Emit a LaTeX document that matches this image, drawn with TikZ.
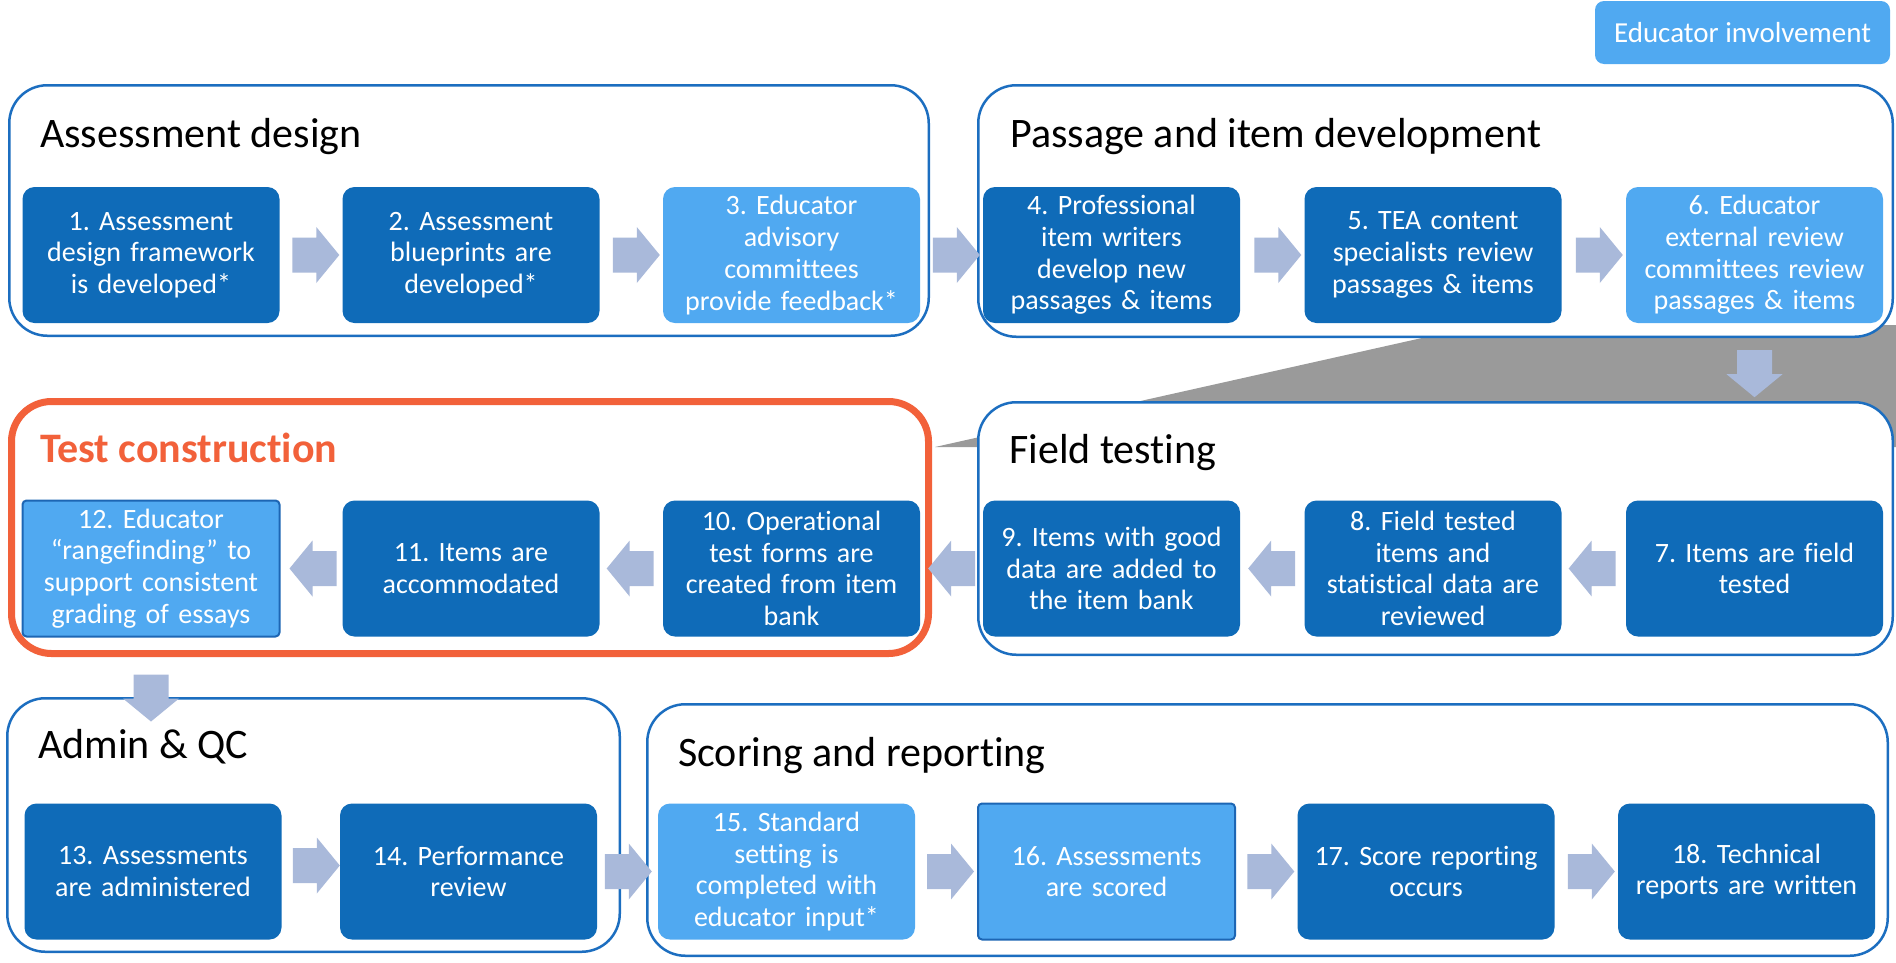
\documentclass[tikz,border=0pt]{standalone}
\usepackage{fontspec}
\setmainfont{Carlito}[Ligatures=NoCommon]
\usetikzlibrary{calc}

\definecolor{stepdark}{HTML}{0F6BB8}
\definecolor{steplight}{HTML}{50A9F1}
\definecolor{frameblue}{HTML}{1C6EC0}
\definecolor{edgeblue}{HTML}{1D66B4}
\definecolor{flowarrow}{HTML}{A9B9DA}
\definecolor{focusorange}{HTML}{F2613A}
\definecolor{wedgegray}{HTML}{9A9A9A}

\tikzset{
  stage/.style={draw=frameblue, line width=2.5pt, fill=white, rounded corners=38pt,
    inner sep=0pt},
  focusstage/.style={draw=focusorange, line width=7pt, fill=white, rounded corners=40pt,
    inner sep=0pt},
  stagetitle/.style={anchor=base west, inner sep=0pt, font={\fontsize{42}{50}\selectfont}},
  stepbox/.style={fill=stepdark, rounded corners=12pt, minimum width=257pt,
    minimum height=136pt, text width=255pt, inner sep=0pt, align=center, text=white,
    font={\fontsize{28}{31.7}\selectfont}},
  educbox/.style={stepbox, fill=steplight},
  pics/blockarrow/.style={code={
    \fill[flowarrow] (0,0) -- (-23,-28) -- (-23,-17.5) -- (-47,-17.5) -- (-47,17.5)
      -- (-23,17.5) -- (-23,28) -- cycle;}}
}

\begin{document}
\frenchspacing
\begin{tikzpicture}[x=1pt, y=-1pt]
\useasboundingbox (0,0) rectangle (1896,962);

% grey callout wedge from the test construction stage to the field testing stage
\fill[wedgegray] (935,447) -- (1480,325) -- (1896,325) -- (1896,447) -- cycle;

% stage frames
\node[stage, minimum width=919.5pt, minimum height=250.5pt] (design) at (469,210.5) {};
\node[stage, minimum width=914.5pt, minimum height=251.5pt] (develop) at (1435.5,211) {};
\node[focusstage, minimum width=917pt, minimum height=252pt] (construct) at (470,527.5) {};
\node[stage, minimum width=914.5pt, minimum height=252.5pt] (field) at (1435.5,528.5) {};
\node[stage, minimum width=612.5pt, minimum height=253.5pt] (admin) at (313.5,825) {};
\node[stage, minimum width=1240.5pt, minimum height=251.5pt] (scoring) at (1267.5,830) {};

% stage titles
\node[stagetitle] (tdesign) at (40,147) {Assessment design};
\node[stagetitle] (tdevelop) at (1010,147) {Passage and item development};
\node[stagetitle, text=focusorange, font={\fontsize{42}{50}\selectfont\bfseries}]
  (tconstruct) at (40,462) {Test construction};
\node[stagetitle] (tfield) at (1009,463) {Field testing};
\node[stagetitle] (tadmin) at (38,758) {Admin \& QC};
\node[stagetitle] (tscoring) at (678,766) {Scoring and reporting};

% legend
\node[fill=steplight, rounded corners=9pt, minimum width=295pt, minimum height=63pt,
  inner sep=0pt, text=white, font={\fontsize{29}{32}\selectfont}]
  (legend) at (1742.5,32.5) {Educator involvement};

% row 1
\node[stepbox] (b1) at (151,255) {1. Assessment\\design framework\\is developed*};
\node[stepbox] (b2) at (471,255) {2. Assessment\\blueprints are\\developed*};
\node[educbox] (b3) at (791.5,255) {3. Educator\\advisory\\committees\\provide feedback*};
\node[stepbox] (b4) at (1111.5,255) {4. Professional\\item writers\\develop new\\passages \& items};
\node[stepbox] (b5) at (1433,255) {5. TEA content\\specialists review\\passages \& items};
\node[educbox] (b6) at (1754.5,255) {6. Educator\\external review\\committees review\\passages \& items};

% row 2
\node[stepbox] (b7) at (1754.5,568.5) {7. Items are field\\tested};
\node[stepbox] (b8) at (1433,568.5) {8. Field tested\\items and\\statistical data are\\reviewed};
\node[stepbox] (b9) at (1111.5,568.5) {9. Items with good\\data are added to\\the item bank};
\node[stepbox] (b10) at (791.5,568.5) {10. Operational\\test forms are\\created from item\\bank};
\node[stepbox] (b11) at (471,568.5) {11. Items are\\accommodated};
\node[educbox, draw=edgeblue, line width=2pt, rounded corners=4pt]
  (b12) at (151,568.5) {12. Educator\\“rangefinding” to\\support consistent\\grading of essays};

% row 3
\node[stepbox] (b13) at (153,871.5) {13. Assessments\\are administered};
\node[stepbox] (b14) at (468.5,871.5) {14. Performance\\review};
\node[educbox] (b15) at (786.5,871.5) {15. Standard\\setting is\\completed with\\educator input*};
\node[educbox, draw=edgeblue, line width=2pt, rounded corners=4pt]
  (b16) at (1106.5,871.5) {16. Assessments\\are scored};
\node[stepbox] (b17) at (1426,871.5) {17. Score reporting\\occurs};
\node[stepbox] (b18) at (1746.5,871.5) {18. Technical\\reports are written};

% flow arrows, row 1 (left to right)
\pic at ($(b2.west)+(-3,0)$) {blockarrow};
\pic at ($(b3.west)+(-3,0)$) {blockarrow};
\pic at ($(b4.west)+(-3,0)$) {blockarrow};
\pic at ($(b5.west)+(-3,0)$) {blockarrow};
\pic at ($(b6.west)+(-3,0)$) {blockarrow};
% down into field testing
\pic[rotate=-90] at ($(b6.south)+(0,74)$) {blockarrow};
% row 2 (right to left)
\pic[rotate=180] at ($(b8.east)+(7,0)$) {blockarrow};
\pic[rotate=180] at ($(b9.east)+(8,0)$) {blockarrow};
\pic[rotate=180] at ($(b10.east)+(8,0)$) {blockarrow};
\pic[rotate=180] at ($(b11.east)+(7,0)$) {blockarrow};
\pic[rotate=180] at ($(b12.east)+(9,0)$) {blockarrow};
% down into administration
\pic[rotate=-90] at ($(b12.south)+(0,84)$) {blockarrow};
% row 3 (left to right)
\pic at ($(b14.west)+(0,-6)$) {blockarrow};
\pic at ($(b15.west)+(-6,0)$) {blockarrow};
\pic at ($(b16.west)+(-3,0)$) {blockarrow};
\pic at ($(b17.west)+(-3,0)$) {blockarrow};
\pic at ($(b18.west)+(-3,0)$) {blockarrow};
\end{tikzpicture}
\end{document}
